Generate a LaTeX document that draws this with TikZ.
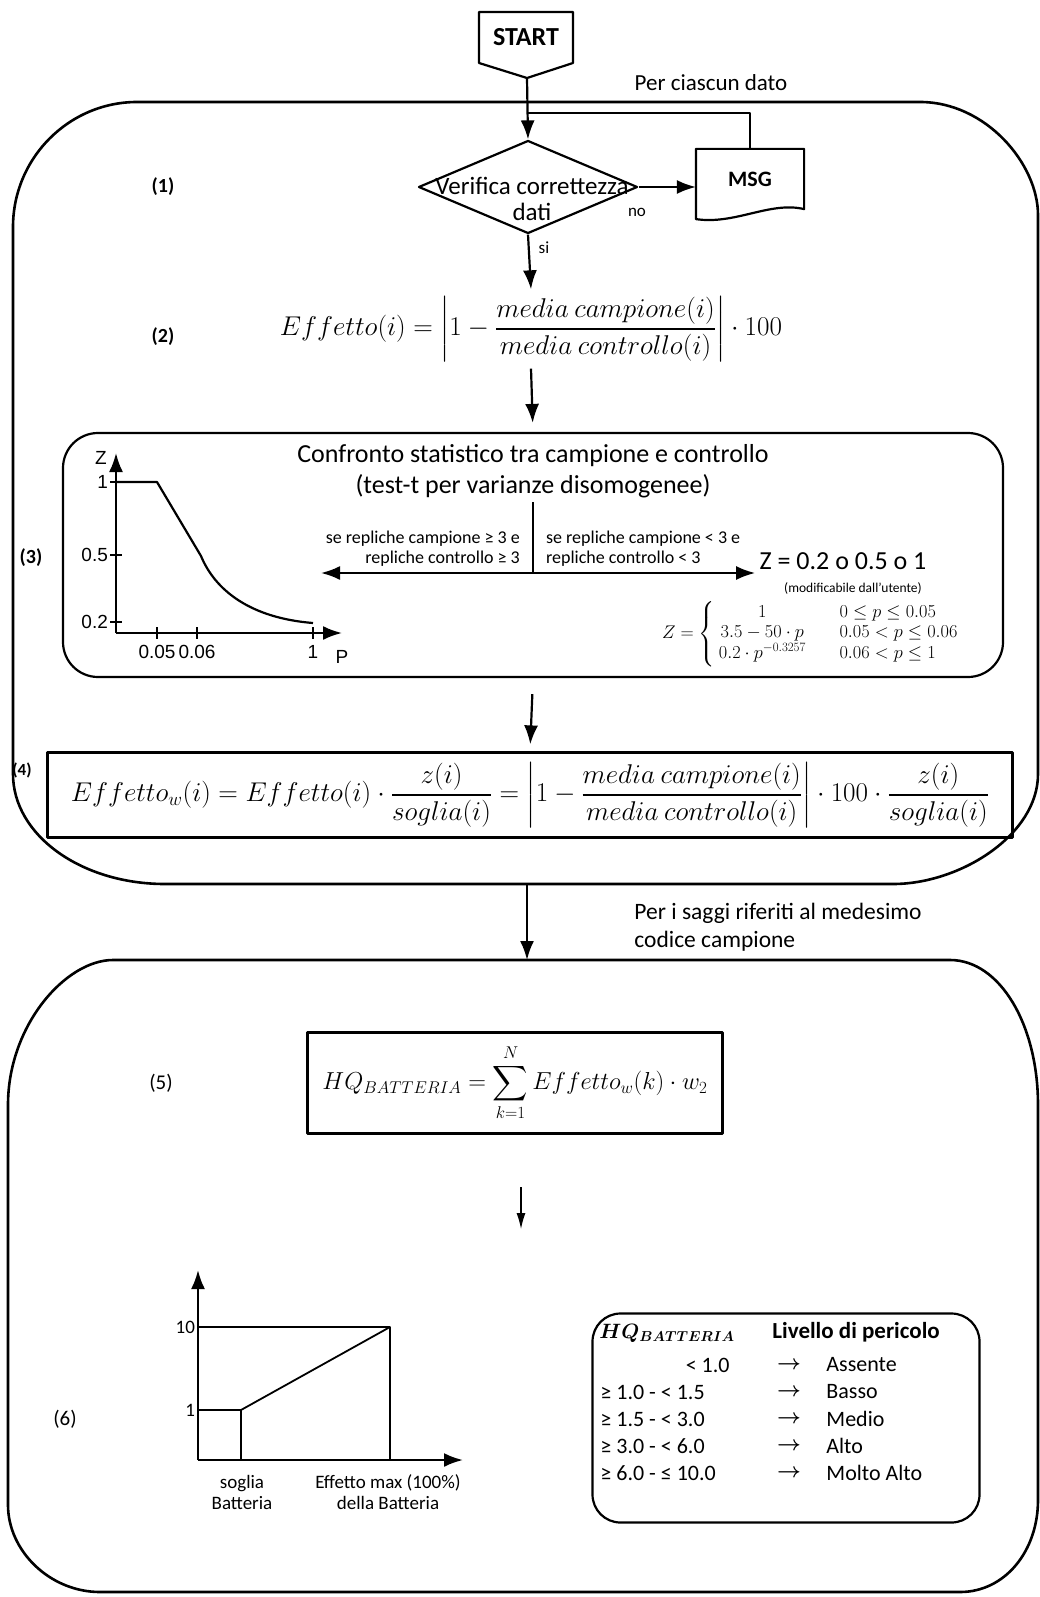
\documentclass[tikz,border=0pt]{standalone}
\usepackage{fontspec}
\setmainfont{Carlito}
\newfontfamily\arialfont{Liberation Sans}
\usepackage{amsmath}
\usepackage{graphicx}
\usepackage{bm}
\usetikzlibrary{arrows.meta,shapes.geometric}
\newcommand{\fsz}[2]{\fontsize{#1}{#2}\selectfont}
\tikzset{
	plainbox/.style={draw, inner sep=0pt},
	numlab/.style={font=\fsz{20}{24}\bfseries},
	axlab/.style={font=\arialfont\fsz{19}{22}, inner sep=1pt},
	tabtxt/.style={font=\fsz{22}{26}},
	thinarrow/.style={line width=1.2pt, -{Latex[length=16pt,width=9pt]}},
}

\begin{document}
\begin{tikzpicture}[x=1pt, y=-1pt, line width=2.2pt, line join=round, >={Latex[length=19pt,width=14pt]}, font=\fsz{23}{27}]
	\useasboundingbox (0,0) rectangle (1040,1597);
	\path
	(479,12) coordinate (st1)
	(573,12) coordinate (st2)
	(573,63) coordinate (st3)
	(527,78) coordinate (sttip)
	(479,63) coordinate (st4)
	(527,113) coordinate (loop)
	(527,884) coordinate (c1s)
	(527,960) coordinate (c2n)
	(533,573) coordinate (split)
	(321,573) coordinate (splitl)
	(116,633) coordinate (o3)
	(116,453) coordinate (ztop)
	(342,633) coordinate (pend)
	(521,1187) coordinate (a6a)
	(521,1229) coordinate (a6b)
	(198,1460) coordinate (o6)
	(198,1270) coordinate (ytop6)
	(463,1460) coordinate (xend6)
	(241,1410) coordinate (sog)
	(390,1327) coordinate (emax)
	;
	\draw[line width=2.6pt] (13,227) .. controls (13,158) and (69,102) .. (137,102) -- (920,102) .. controls (986,102) and (1038,164) .. (1038,215) -- (1038,774) .. controls (1038,835) and (960,884) .. (893,884) -- (165,884) .. controls (81,884) and (13,835) .. (13,774) -- cycle;
	\draw[line width=2.6pt] (8,1105) .. controls (8,1025) and (66,960) .. (113,960) -- (950,960) .. controls (1000,960) and (1038,1025) .. (1038,1105) -- (1038,1500) .. controls (1038,1551) and (1005,1592) .. (960,1592) -- (100,1592) .. controls (50,1592) and (8,1551) .. (8,1505) -- cycle;
	\draw (st1) -- (st2) -- (st3) -- (sttip) -- (st4) -- cycle;
	\node[font=\fsz{26}{30}\bfseries] (start) at (526,37) {START};
	\node[draw, diamond, minimum width=219pt, minimum height=93pt, inner sep=0pt] (check) at (528,187) {};
	\node[align=center, font=\fsz{25}{26}] (checktxt) at (532,199) {Verifica correttezza\\dati};
	\node[minimum width=106pt, minimum height=58pt, inner sep=0pt, font=\fsz{22}{26}\bfseries] (msg) at (750,179) {MSG};
	\draw (msg.north east) -- (msg.north west) -- ([yshift=-10pt]msg.south west) .. controls (735,225) and (770,201) .. (msg.south east) -- cycle;
	\node (perdato) at (711,83) {Per ciascun dato};
	\node[font=\fsz{17}{20}] (no) at (637,212) {no};
	\node[font=\fsz{17}{20}] (si) at (544,248) {si};
	\foreach \n/\x/\y in {1/163/187, 2/163/337, 3/31/558}
	\node[numlab] (lab\n) at (\x,\y) {(\n)};
	\foreach \n/\x/\y in {5/161/1083, 6/65/1419}
	\node[numlab, font=\fsz{21}{25}] (lab\n) at (\x,\y) {(\n)};
	\node[inner sep=6pt] (eff) at (531,329) {\resizebox{502pt}{!}{$\displaystyle Effetto(i)=\left|1-\frac{media\ campione(i)}{media\ controllo(i)}\right|\cdot 100$}};
	\node[plainbox, rounded corners=35pt, minimum width=940pt, minimum height=244pt] (cmp) at (533,555) {};
	\node[align=center, font=\fsz{26}{31}] (cmptitle) at (533,471) {Confronto statistico tra campione e controllo\\(test-t per varianze disomogenee)};
	\node[font=\fsz{26}{30}] (zconst) at (843,561) {Z = 0.2 o 0.5 o 1};
	\node[anchor=south east, align=right, inner sep=2pt, font=\fsz{18}{20}] (condge) at (523,569) {se repliche campione ≥ 3 e\\repliche controllo ≥ 3};
	\node[anchor=south west, align=left, inner sep=2pt, font=\fsz{18}{20}] (condlt) at (543,569) {se repliche campione < 3 e\\repliche controllo < 3};
	\node[font=\fsz{13.5}{16}] (usermod) at (853,588) {(modificabile dall’utente)};
	\node (zpw) at (812,634) {\resizebox{300pt}{!}{$Z=\left\{\begin{array}{c@{\qquad}l} 1 & 0\le p\le 0.05\\ 3.5-50\cdot p & 0.05<p\le 0.06\\ 0.2\cdot p^{-0.3257} & 0.06<p\le 1\end{array}\right.$}};
	\draw[->] (sttip) -- (check.north);
	\draw (msg.north) |- (loop);
	\draw[->] (check.east) -- (check.east -| msg.west);
	\draw[->] (check.south) -- (eff.north);
	\draw[->, shorten >=9pt] (eff.south) -- (cmp.north);
	\draw (cmptitle.south) -- (split);
	\draw[<->] (splitl) -- (zconst.west |- split);
	\draw[->] (o3) -- (ztop);
	\draw[->] (o3) -- (pend);
	\foreach \y/\l in {482/1, 555/0.5, 622/0.2}
	\draw (110,\y) -- (122,\y) node[axlab, pos=0, anchor=east] (zt\y) {\l};
	\foreach \x/\l in {157/0.05, 197/0.06, 313/1}
	\draw (\x,627) -- (\x,639) node[axlab, pos=1, anchor=north, yshift=-4pt] (pt\x) {\l};
	\node[axlab] (zlab) at (101,458) {Z};
	\node[axlab] (plab) at (342,657) {P};
	\draw (116,482) -- (157,482) -- (201,556) .. controls (215,590) and (250,618) .. (313,623);
	\node[plainbox, minimum width=965pt, minimum height=85pt] (effw) at (530,795) {\resizebox{918pt}{!}{$\displaystyle Effetto_w(i)=Effetto(i)\cdot\frac{z(i)}{soglia(i)}=\left|1-\frac{media\ campione(i)}{media\ controllo(i)}\right|\cdot 100\cdot\frac{z(i)}{soglia(i)}$}};
	\node[numlab, font=\fsz{17}{20}\bfseries] (lab4) at (22,770) {(4)};
	\draw[->, shorten <=16pt, shorten >=7pt] (cmp.south) -- (effw.north);
	\draw[->] (c1s) -- (c2n);
	\node[anchor=west, align=left, font=\fsz{23.5}{28}] (saggi) at (630,927) {Per i saggi riferiti al medesimo\\codice campione};
	\node[plainbox, minimum width=415pt, minimum height=101pt] (hq) at (515,1083) {\resizebox{385pt}{!}{$\displaystyle HQ_{BATTERIA}=\sum_{k=1}^{N}Effetto_w(k)\cdot w_2$}};
	\draw[thinarrow] (a6a) -- (a6b);
	\draw[->, line width=2.4pt] (o6) -- (ytop6);
	\draw[->, line width=2.4pt] (o6) -- (xend6);
	\draw[line width=2pt] (o6 |- emax) -| (emax |- o6);
	\draw[line width=1.8pt] (o6 |- sog) -| (sog |- o6);
	\draw[line width=1.8pt] (sog) -- (emax);
	\node[anchor=east, inner sep=2pt, font=\fsz{19}{22}] (ten) at (o6 |- emax) {10};
	\node[anchor=east, inner sep=2pt, font=\fsz{19}{22}] (one) at (o6 |- sog) {1};
	\node[align=center, font=\fsz{19}{21}] (soglab) at (242,1492) {soglia\\Batteria};
	\node[align=center, font=\fsz{19}{21}] (maxlab) at (388,1492) {Effetto max (100\%)\\della Batteria};
	\node[plainbox, rounded corners=28pt, minimum width=387pt, minimum height=209pt] (hqtab) at (786,1418) {};
	\node[font=\fsz{20.5}{24}] (hqhead) at (667,1333) {$\bm{HQ_{BATTERIA}}$};
	\node[anchor=west, font=\fsz{23}{27}\bfseries] (lvhead) at (768,1332) {Livello di pericolo};
	\node[tabtxt, anchor=east] (lo1) at (734,1365) {< 1.0};
	\foreach \lo/\lv [count=\i] in {{}/Assente, ≥ 1.0 - < 1.5/Basso, ≥ 1.5 - < 3.0/Medio, ≥ 3.0 - < 6.0/Alto, ≥ 6.0 - ≤ 10.0/Molto Alto}
	{
	\node[tabtxt] (lt\i) at (596,1338+27*\i) [anchor=west] {\lo};
	\node[tabtxt] (arr\i) at (789,1338+27*\i) {$\boldsymbol{\rightarrow}$};
	\node[tabtxt, anchor=west] (lv\i) at (822,1338+27*\i) {\lv};
	}
\end{tikzpicture}
\end{document}
